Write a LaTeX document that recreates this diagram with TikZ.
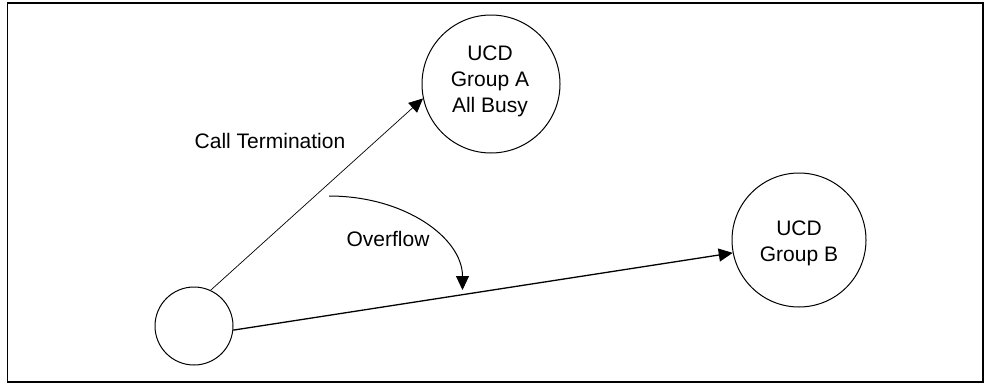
\documentclass[tikz,border=0pt]{standalone}
\usepackage{fontspec}
\setmainfont{Liberation Sans}
\usetikzlibrary{arrows.meta}
\begin{document}
\begin{tikzpicture}[x=1pt,y=-1pt,
  state/.style={draw,circle,inner sep=0pt,line width=1pt},
  lbl/.style={font=\fontsize{21}{26}\selectfont,align=center,inner sep=0pt},
  tip/.style={-{Triangle[length=14pt,width=13pt]}},
]
\useasboundingbox (0,0) rectangle (990,383);
\draw[line width=1.7pt] (7.5,3) rectangle (983,382);
% nodes
\node[state,minimum size=138pt] (A) at (491,84) {};
\node[state,minimum size=134pt] (B) at (799,240) {};
\node[state,minimum size=78pt] (S) at (194,326) {};
\node[lbl] (At) at (490,81) {UCD\\Group A\\All Busy};
\node[lbl] (Bt) at (799,243) {UCD\\Group B};
\node[lbl,anchor=base] (ct) at (270,148) {Call Termination};
\node[lbl,anchor=base] (ov) at (388,246.5) {Overflow};
% connectors
\draw[tip,line width=0.7pt] (S.65) -- (A.192);
\draw[tip,line width=1.3pt] (S.-6) -- (B.191);
\coordinate (o1) at (329,196);
\coordinate (o2) at (462.5,290);
\draw[tip,line width=1pt] (o1) .. controls (405,196) and (462.5,238) .. (o2);
\end{tikzpicture}
\end{document}
